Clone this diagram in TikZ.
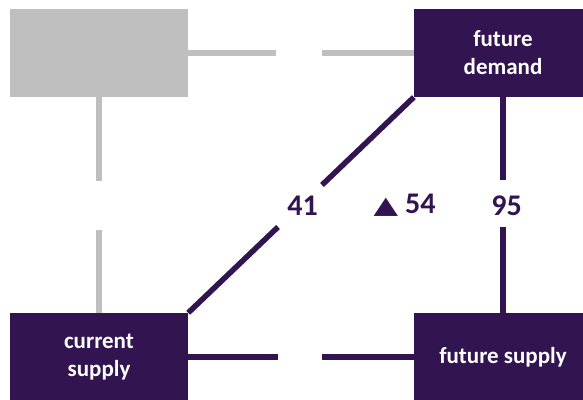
\documentclass[tikz,border=0pt]{standalone}
\usepackage{fontspec}
\setmainfont{Carlito}
\newfontfamily\symfont{DejaVu Sans}
\usetikzlibrary{backgrounds}
\definecolor{dpurple}{RGB}{49,20,80}
\definecolor{lgray}{RGB}{191,191,191}
\begin{document}
\begin{tikzpicture}[x=1pt,y=-1pt,
  box/.style={rectangle, minimum width=178pt, minimum height=88pt, inner sep=0pt, align=center, text=white, font=\bfseries\fontsize{23}{28}\selectfont},
  pbox/.style={box, fill=dpurple},
  gbox/.style={box, fill=lgray},
  pline/.style={draw=dpurple, line width=5.5pt},
  gline/.style={draw=lgray, line width=5.5pt},
  val/.style={text=dpurple, font=\bfseries\fontsize{30}{32}\selectfont, inner sep=0pt}]
\useasboundingbox (0,0) rectangle (583,399);
\clip (0,0) rectangle (583,399);
\node[gbox] (gb) at (99,53) {};
\node[pbox] (fd) at (503,53) {future\\demand};
\node[pbox] (cs) at (99,357) {current\\supply};
\node[pbox] (fs) at (503,357) {future supply};
\node[val] (v41) at (302.5,205.5) {41};
\node[val] (v54) at (404.5,205.5) {\scalebox{1.33}[1.0]{\symfont\fontsize{24}{24}\selectfont ▲}\hspace{7pt}54};
\node[val] (v95) at (506.5,206) {95};
\coordinate (gh1) at (276,53); \coordinate (gh2) at (322,53);
\coordinate (gv1) at (99,181); \coordinate (gv2) at (99,230);
\coordinate (dg1) at (322,185); \coordinate (dg2) at (278,227);
\coordinate (rv1) at (503,180); \coordinate (rv2) at (503,227);
\coordinate (bh1) at (278,357); \coordinate (bh2) at (322,357);
\begin{scope}[on background layer]
\draw[gline] (gb.east) -- (gh1);
\draw[gline] (gh2) -- (fd.west);
\draw[gline] (gb.south) -- (gv1);
\draw[gline] (gv2) -- (cs.north);
\draw[pline] (fd.south west) -- (dg1);
\draw[pline] (dg2) -- (cs.north east);
\draw[pline] (fd.south) -- (rv1);
\draw[pline] (rv2) -- (fs.north);
\draw[pline] (cs.east) -- (bh1);
\draw[pline] (bh2) -- (fs.west);
\end{scope}
\end{tikzpicture}
\end{document}
